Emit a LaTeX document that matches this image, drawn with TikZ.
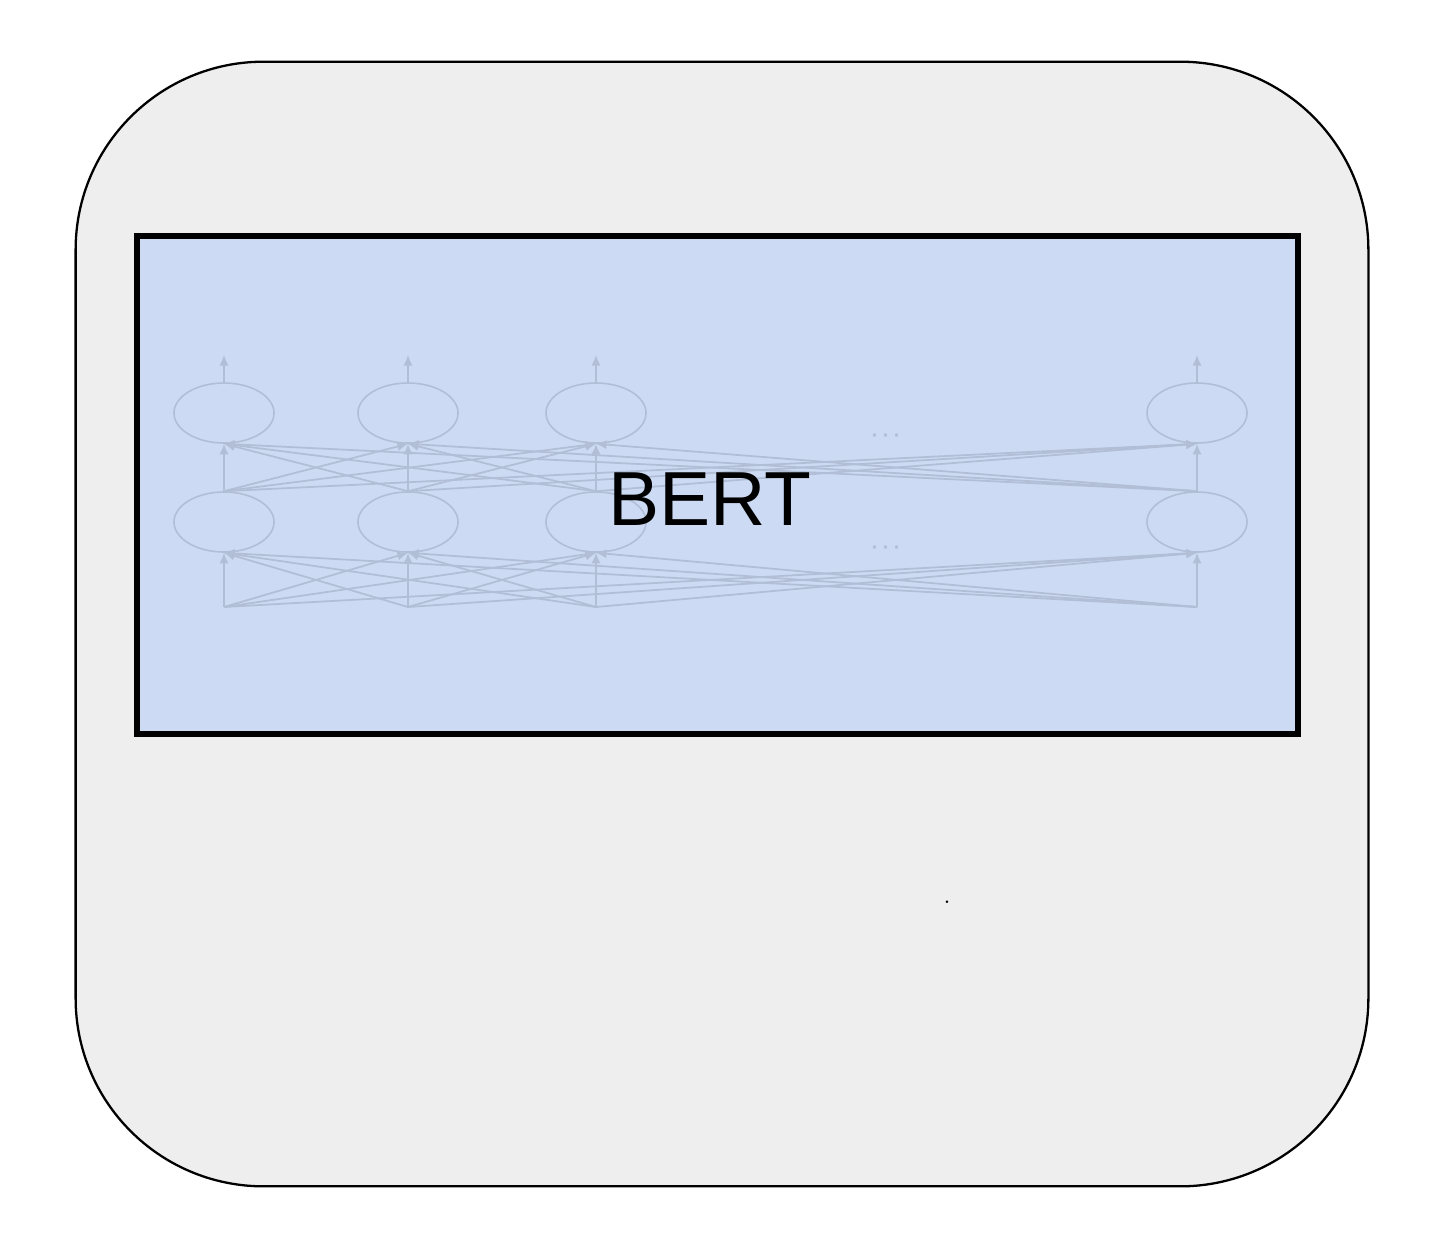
\documentclass[tikz,border=0pt]{standalone}
\usepackage{fontspec}
\newfontfamily\arialfont{Liberation Sans}
\usetikzlibrary{shapes.geometric,arrows.meta}
\definecolor{panelgray}{RGB}{238,238,238}
\definecolor{bertblue}{RGB}{204,218,244}
\definecolor{netline}{RGB}{178,190,214}

\begin{document}
\begin{tikzpicture}[x=0.01cm,y=-0.01cm,>={Latex[length=3pt,width=2.6pt]},
  cell/.style={ellipse,draw=netline,line width=0.45pt,minimum width=1cm,minimum height=0.6cm,inner sep=0pt},
  wire/.style={->,draw=netline,line width=0.5pt}]
\useasboundingbox (0,0) rectangle (1434,1236);
\node[draw,line width=0.65pt,fill=panelgray,rounded corners=1.88cm,inner sep=0pt,minimum width=12.92cm,minimum height=11.24cm] (panel) at (722,624) {};
\node[draw,line width=1.7pt,fill=bertblue,inner sep=0pt,minimum width=11.61cm,minimum height=4.98cm] (bert) at (717.5,485) {};
% faint network behind the label
\foreach \i/\x in {1/224,2/408,3/596,4/1197} {
  \node[cell] (U\i) at (\x,413) {};
  \node[cell] (L\i) at (\x,522) {};
  \coordinate (I\i) at (\x,607);
  \coordinate (O\i) at (\x,355);
  \draw[wire] (U\i) -- (O\i);
}
\foreach \i in {1,...,4} \foreach \j in {1,...,4} {
  \draw[wire] (I\i) -- (L\j.south);
  \draw[wire] (L\i.north) -- (U\j.south);
}
\node[text=netline,font=\small] (dotsU) at (886,436) {$\cdot\!\cdot\!\cdot$};
\node[text=netline,font=\small] (dotsL) at (886,548) {$\cdot\!\cdot\!\cdot$};
\node (label) at (710,499) {\arialfont\fontsize{21.8}{26}\selectfont BERT};
\node[inner sep=0pt] (mark) at (947,902) {\fontsize{6}{6}\selectfont .};
\end{tikzpicture}
\end{document}
